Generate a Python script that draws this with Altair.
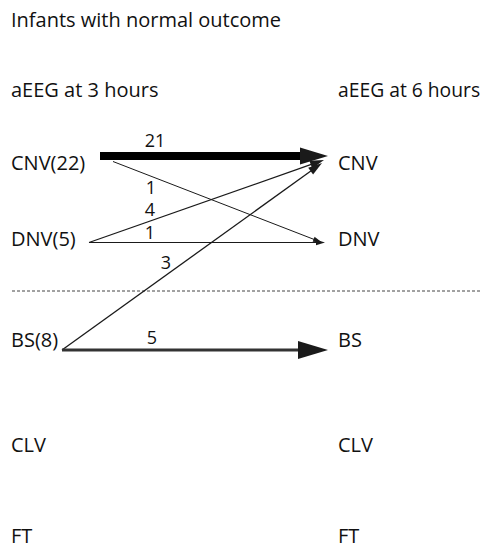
import math
import altair as alt
import pandas as pd

# ---------------- data ----------------
states = ["CNV", "DNV", "BS", "CLV", "FT"]
flow_from = ["CNV", "CNV", "DNV", "DNV", "BS", "BS"]
flow_to = ["CNV", "DNV", "CNV", "DNV", "CNV", "BS"]
flow_n = [21, 1, 4, 1, 3, 5]
chart_title = "Infants with normal outcome"
col_titles = ["aEEG at 3 hours", "aEEG at 6 hours"]

# ---------------- layout / style (page pixels) ----------------
W, H = 473, 536
FONT = "Open Sans"
TEXT = "#111111"
FS = 20
FS_RIGHT_HEADER = 19.3
FS_NUM = 18
col_x = [11, 338]
title_y = 27
header_y = 97
row_y = {"CNV": 170, "DNV": 246, "BS": 347, "CLV": 452, "FT": 543}
divider = (12, 489, 291)
src_anchor = {"CNV": (100, 156), "DNV": (89, 242.5), "BS": (62, 350)}
dst_anchor = {"CNV": (328, 156), "DNV": (325, 242.5), "BS": (328, 350)}
flow_style = [
    dict(s=(0, 0), e=(0, 0), w=8, head=28, color="#000000", lx=155, ldy=-14),
    dict(s=(13, 5.5), e=(-3, 0), w=1, head=9, color="#1a1a1a", lx=151, ldy=13),
    dict(s=(0, 0), e=(-4, 4), w=1.3, head=14, color="#1a1a1a", lx=150, ldy=-10),
    dict(s=(0, 0), e=(0, 0), w=1, head=9, color="#1a1a1a", lx=150, ldy=-8.5),
    dict(s=(0, 0), e=(-6, 7), w=1.3, head=14, color="#1a1a1a", lx=166, ldy=-11.5),
    dict(s=(0, 0), e=(0, 0), w=3, head=30, color="#333333", lx=152, ldy=-11.5),
]
HEAD_SHAPE = "M0,0 L-2,-0.6 L-2,0.6 Z"

xs = alt.Scale(domain=[8, 8 + W], range=[0, W], nice=False, zero=False)
ys = alt.Scale(domain=[8, 8 + H], range=[0, H], nice=False, zero=False)

# ---------------- build tables ----------------
rules, heads, nums = [], [], []
for src, dst, n, st in zip(flow_from, flow_to, flow_n, flow_style):
    sx = src_anchor[src][0] + st["s"][0]
    sy = src_anchor[src][1] + st["s"][1]
    ex = dst_anchor[dst][0] + st["e"][0]
    ey = dst_anchor[dst][1] + st["e"][1]
    dx, dy = ex - sx, ey - sy
    L = math.hypot(dx, dy)
    ux, uy = dx / L, dy / L
    back = st["head"] * 0.8
    rules.append(dict(x=sx, y=sy, x2=ex - ux * back, y2=ey - uy * back,
                      w=st["w"], c=st["color"]))
    ang = math.degrees(math.atan2(dy, dx)) % 360
    heads.append(dict(x=ex, y=ey, angle=ang, size=st["head"] ** 2, c="#1a1a1a"))
    ly = sy + (st["lx"] - sx) * dy / dx + st["ldy"]
    nums.append(dict(x=st["lx"], y=ly, text=str(n)))

totals = {}
for src, n in zip(flow_from, flow_n):
    totals[src] = totals.get(src, 0) + n

labels = []
for s in states:
    left = f"{s}({totals[s]})" if s in totals else s
    labels.append(dict(x=col_x[0], y=row_y[s], text=left, fs=FS))
    labels.append(dict(x=col_x[1], y=row_y[s], text=s, fs=FS))
labels.append(dict(x=col_x[0], y=header_y, text=col_titles[0], fs=FS))
labels.append(dict(x=col_x[1], y=header_y, text=col_titles[1], fs=FS_RIGHT_HEADER))
labels.append(dict(x=col_x[0], y=title_y, text=chart_title, fs=FS))

rules_df = pd.DataFrame(rules)
heads_df = pd.DataFrame(heads)
nums_df = pd.DataFrame(nums)
labels_df = pd.DataFrame(labels)
div_df = pd.DataFrame([dict(x=divider[0], x2=divider[1], y=divider[2])])

X = lambda f="x": alt.X(f"{f}:Q", scale=xs, axis=None)
Y = lambda f="y": alt.Y(f"{f}:Q", scale=ys, axis=None)

div_layer = alt.Chart(div_df).mark_rule(
    color="#444444", strokeWidth=1, strokeDash=[3, 2]
).encode(x=X(), x2="x2:Q", y=Y())

rule_layer = alt.Chart(rules_df).mark_rule().encode(
    x=X(), x2="x2:Q", y=Y(), y2="y2:Q",
    strokeWidth=alt.StrokeWidth("w:Q", scale=None),
    color=alt.Color("c:N", scale=None),
)

head_layer = alt.Chart(heads_df).mark_point(
    shape=HEAD_SHAPE, filled=True, opacity=1, strokeWidth=0
).encode(
    x=X(), y=Y(),
    angle=alt.Angle("angle:Q", scale=None),
    size=alt.Size("size:Q", scale=None),
    color=alt.Color("c:N", scale=None),
)

label_layer = alt.Chart(labels_df).mark_text(
    align="left", baseline="alphabetic", font=FONT, color=TEXT
).encode(x=X(), y=Y(), text="text:N", size=alt.Size("fs:Q", scale=None))

num_layer = alt.Chart(nums_df).mark_text(
    align="center", baseline="middle", font=FONT, fontSize=FS_NUM, color=TEXT
).encode(x=X(), y=Y(), text="text:N")

chart = alt.layer(
    div_layer, rule_layer, head_layer, label_layer, num_layer
).properties(
    width=W, height=H, padding=0, autosize=alt.AutoSizeParams(type="none")
).configure_view(stroke=None)

chart.save("out.html", embed_options={"renderer": "svg", "actions": False})
